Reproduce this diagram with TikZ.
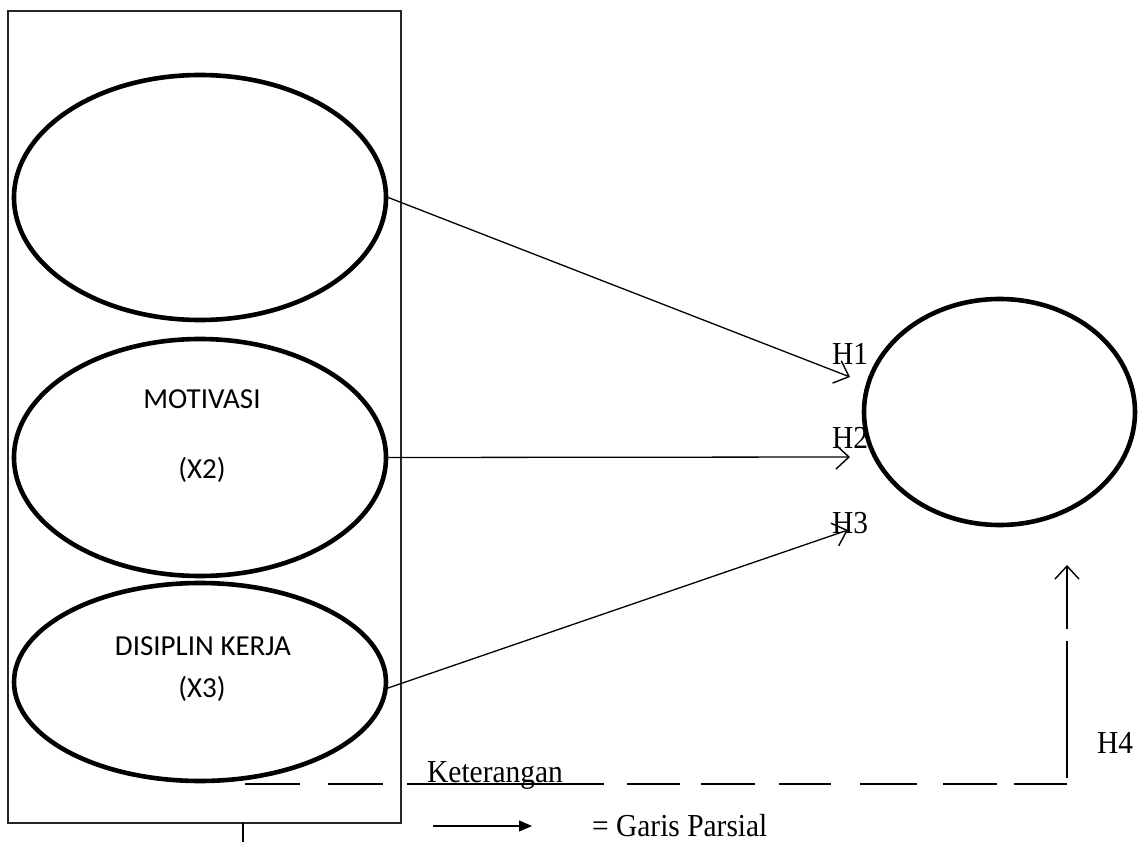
\documentclass[tikz,border=0pt]{standalone}
\usepackage{fontspec}
\setmainfont{Liberation Serif}[FakeStretch=0.92]
\newfontfamily\calfont{Carlito}
\usetikzlibrary{shapes.geometric,arrows.meta}
\begin{document}
\begin{tikzpicture}[x=1pt,y=-1pt,
  oval/.style={ellipse,draw,line width=4.6pt,inner sep=0pt},
  frame/.style={draw,line width=1.3pt,black!85},
  arr/.style={line width=1.3pt,-{Straight Barb[length=13pt,width=24pt,line width=1.4pt]}},
  cal/.style={font=\calfont\fontsize{29}{34}\selectfont,anchor=base,inner sep=0pt},
  tnr/.style={font=\fontsize{32}{36}\selectfont,anchor=base west,inner sep=0pt},
  conn/.style={line width=1.5pt}]
\useasboundingbox (0,0) rectangle (1141,842);
% frame
\draw[frame] (8,11) rectangle (401,823);
% ellipses
\node[oval,minimum width=372pt,minimum height=245pt] (e1) at (200,197.5) {};
\node[oval,minimum width=372pt,minimum height=237pt] (e2) at (200,457.5) {};
\node[oval,minimum width=372pt,minimum height=198pt] (e3) at (200,682) {};
\node[oval,minimum width=271pt,minimum height=226pt] (y) at (999.5,412) {};
% ellipse labels
\node[cal] (l2a) at (202,408) {MOTIVASI};
\node[cal] (l2b) at (202,478) {(X2)};
\node[cal] (l3a) at (203,655) {DISIPLIN KERJA};
\node[cal] (l3b) at (202,697) {(X3)};
% arrow ends
\coordinate (t1) at (850,377);
\coordinate (t2) at (850,457);
\coordinate (t3) at (848,530);
\coordinate (s3) at (388,688);
\draw[arr] (e1.east) -- (t1);
\draw[arr] (e2.east) -- (t2);
\draw[arr] (s3) -- (t3);
% H labels
\node[tnr] (h1) at (832,365) {H1};
\node[tnr] (h2) at (832,448) {H2};
\node[tnr] (h3) at (832,533) {H3};
\node[tnr] (h4) at (1097,753) {H4};
% dashed H4 path
\coordinate (d0) at (245,784);
\coordinate (d1) at (1067,784);
\coordinate (v0) at (1067,778);
\coordinate (v1) at (1067,641);
\coordinate (a0) at (1067,629);
\coordinate (a1) at (1067,565);
\draw[conn,dash pattern=on 55pt off 28pt on 55pt off 24pt on 197pt off 23pt on 53pt off 21pt on 54pt off 24pt on 52pt off 29pt on 57pt off 26pt on 54pt off 17pt on 54pt off 0pt] (d0) -- (d1);
\draw[conn] (v0) -- (v1);
\draw[arr] (a0) -- (a1);
% tick
\coordinate (k0) at (243,823);
\coordinate (k1) at (243,842);
\draw[conn] (k0) -- (k1);
% legend
\node[tnr] (ket) at (427,782) {Keterangan};
\coordinate (g0) at (433,826);
\coordinate (g1) at (532,826);
\draw[line width=1.3pt,-{Triangle[length=13pt,width=11pt]}] (g0) -- (g1);
\node[tnr] (gp) at (592,836) {= Garis Parsial};
\end{tikzpicture}
\end{document}
